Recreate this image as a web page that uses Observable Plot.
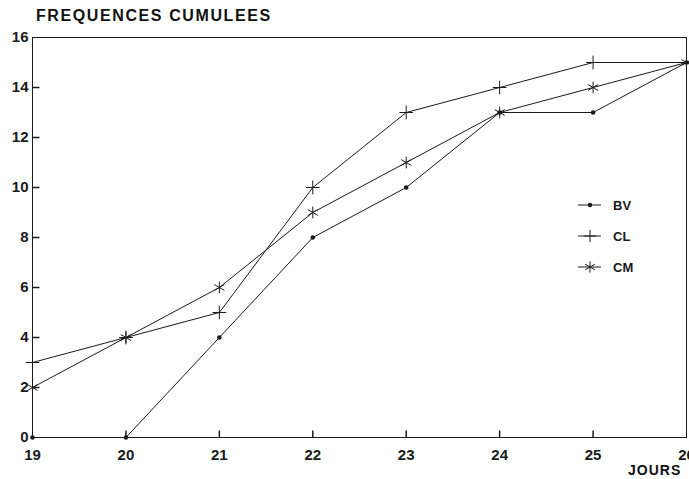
<!DOCTYPE html>
<html>
<head>
<meta charset="utf-8">
<script src="https://cdn.jsdelivr.net/npm/d3@7"></script>
<script src="https://cdn.jsdelivr.net/npm/@observablehq/plot@0.6"></script>
<style>
  html, body { margin: 0; padding: 0; background: #fff; }
  #wrap { position: relative; width: 689px; height: 479px; overflow: hidden; font-family: "Liberation Sans", Arial, sans-serif; }
  #title { position: absolute; left: 36px; top: 7px; font-size: 16px; font-weight: bold; letter-spacing: 1.6px; color: #111; }
  #chart { position: absolute; left: 0; top: 28px; }
  #jours { position: absolute; left: 628px; top: 462px; font-size: 14px; font-weight: bold; letter-spacing: 1px; color: #111; white-space: nowrap; }
  #legend { position: absolute; left: 570px; top: 190px; }
</style>
</head>
<body>
<div id="wrap">
  <div id="title">FREQUENCES CUMULEES</div>
  <div id="chart"></div>
  <div id="jours">JOURS</div>
  <svg id="legend" width="90" height="95"></svg>
</div>
<script>
const days = [19, 20, 21, 22, 23, 24, 25, 26];
const bv = [0, 0, 4, 8, 10, 13, 13, 15];
const cl = [3, 4, 5, 10, 13, 14, 15, 15];
const cm = [2, 4, 6, 9, 11, 13, 14, 15];
const seriesNames = ["BV", "CL", "CM"];
const xTicks = [19, 20, 21, 22, 23, 24, 25, 26];
const yTicks = [0, 2, 4, 6, 8, 10, 12, 14, 16];

const rows = [];
[bv, cl, cm].forEach((vals, i) => {
  days.forEach((d, j) => rows.push({ serie: seriesNames[i], day: d, value: vals[j] }));
});
const ink = "#1a1a1a";

// custom tick symbols (short inward strokes)
const tickUp = { draw(ctx, size) { ctx.moveTo(0, 0); ctx.lineTo(0, -7); } };
const tickRight = { draw(ctx, size) { ctx.moveTo(0, 0); ctx.lineTo(7, 0); } };

const chart = Plot.plot({
  width: 689,
  height: 451,
  marginLeft: 32,
  marginRight: 3,
  marginTop: 9,
  marginBottom: 42,
  style: { fontFamily: "Liberation Sans, Arial, sans-serif", fontSize: "15px", fontWeight: "bold", color: ink, background: "#fff" },
  x: { domain: [19, 26] },
  y: { domain: [0, 16] },
  marks: [
    Plot.frame({ stroke: ink, strokeWidth: 1 }),
    Plot.dot(xTicks.slice(1, -1), { x: d => d, frameAnchor: "bottom", symbol: tickUp, stroke: ink, strokeWidth: 1.5, fill: "none" }),
    Plot.dot(yTicks.slice(1, -1), { y: d => d, frameAnchor: "left", symbol: tickRight, stroke: ink, strokeWidth: 1.5, fill: "none" }),
    Plot.axisX({ ticks: xTicks, tickSize: 0, tickPadding: 12, tickFormat: d => String(d), fill: ink, label: null }),
    Plot.axisY({ ticks: yTicks, tickSize: 0, tickPadding: 4, tickFormat: d => String(d), fill: ink, label: null }),
    Plot.line(rows, { x: "day", y: "value", z: "serie", stroke: ink, strokeWidth: 1 }),
    Plot.dot(rows.filter(r => r.serie === "BV"), { x: "day", y: "value", r: 2.3, fill: ink, stroke: "none" }),
    Plot.dot(rows.filter(r => r.serie === "CL"), { x: "day", y: "value", symbol: "plus", r: 4.5, stroke: ink, strokeWidth: 1 }),
    Plot.dot(rows.filter(r => r.serie === "CM"), { x: "day", y: "value", symbol: "asterisk", r: 5.5, stroke: ink, strokeWidth: 1 })
  ]
});
document.getElementById("chart").appendChild(chart);

// Legend
const lg = d3.select("#legend");
const symbols = [
  d3.symbol(d3.symbolCircle, 16),
  d3.symbol(d3.symbolPlus, 50),
  d3.symbol(d3.symbolAsterisk, 90)
];
seriesNames.forEach((name, i) => {
  const y = 15 + i * 31;
  const g = lg.append("g").attr("transform", `translate(0,${y})`);
  g.append("line").attr("x1", 8).attr("x2", 31).attr("y1", 0).attr("y2", 0).attr("stroke", ink);
  const p = g.append("path").attr("d", symbols[i]()).attr("transform", "translate(20,0)");
  if (i === 0) p.attr("fill", ink); else p.attr("fill", "none").attr("stroke", ink);
  g.append("text").attr("x", 43).attr("y", 5).text(name)
    .attr("font-family", "Liberation Sans, Arial, sans-serif").attr("font-size", 13).attr("font-weight", "bold").attr("fill", ink);
});
</script>
</body>
</html>
